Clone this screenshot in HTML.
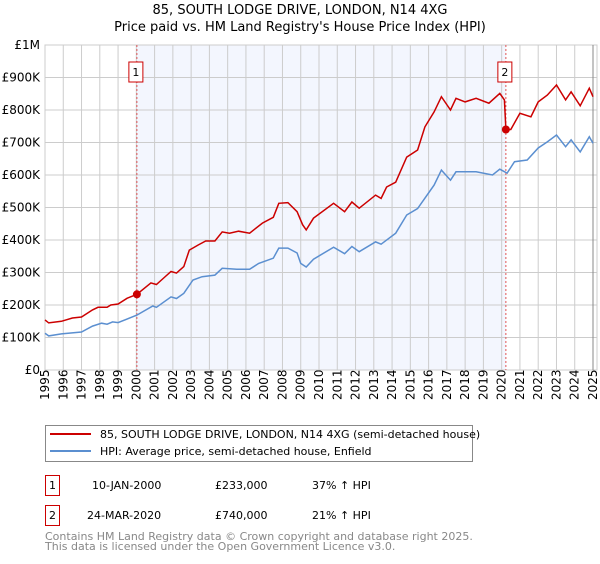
<!DOCTYPE html>
<html><head><meta charset="utf-8"><style>
body{margin:0;background:#fff;font-family:"DejaVu Sans","Liberation Sans",sans-serif;}
svg text{font-family:"DejaVu Sans","Liberation Sans",sans-serif;}
</style></head><body>
<svg id="chart" width="600" height="560" xmlns="http://www.w3.org/2000/svg">
<text x="300" y="14" text-anchor="middle" font-size="13">85, SOUTH LODGE DRIVE, LONDON, N14 4XG</text>
<text x="300" y="31" text-anchor="middle" font-size="13">Price paid vs. HM Land Registry's House Price Index (HPI)</text>
<g id="plot"></g>
<g>
<rect x="45.5" y="425.5" width="427" height="36" fill="#fff" stroke="#888"/>
<line x1="50" y1="434" x2="91" y2="434" stroke="#cc0000" stroke-width="2"/>
<text x="100" y="438" font-size="11">85, SOUTH LODGE DRIVE, LONDON, N14 4XG (semi-detached house)</text>
<line x1="50" y1="451" x2="91" y2="451" stroke="#5b8fd0" stroke-width="2"/>
<text x="100" y="455" font-size="11">HPI: Average price, semi-detached house, Enfield</text>
</g>
<g font-size="11">
<rect x="45.5" y="475.5" width="14" height="20" fill="#fff" stroke="#cc0000"/>
<text x="52.5" y="489" text-anchor="middle">1</text>
<text x="92" y="489">10-JAN-2000</text><text x="215" y="489">£233,000</text><text x="312" y="489">37% ↑ HPI</text>
<rect x="45.5" y="505.5" width="14" height="20" fill="#fff" stroke="#cc0000"/>
<text x="52.5" y="519" text-anchor="middle">2</text>
<text x="87" y="519">24-MAR-2020</text><text x="215" y="519">£740,000</text><text x="312" y="519">21% ↑ HPI</text>
</g>
<g font-size="11" fill="#888">
<text x="45" y="540">Contains HM Land Registry data © Crown copyright and database right 2025.</text>
<text x="45" y="550">This data is licensed under the Open Government Licence v3.0.</text>
</g>
</svg>
<script>
const yearTicks=[1995,1996,1997,1998,1999,2000,2001,2002,2003,2004,2005,2006,2007,2008,2009,2010,2011,2012,2013,2014,2015,2016,2017,2018,2019,2020,2021,2022,2023,2024,2025];
const valueTicks=[0,100,200,300,400,500,600,700,800,900,1000];
const valueTickLabels=["£0","£100K","£200K","£300K","£400K","£500K","£600K","£700K","£800K","£900K","£1M"];
const redYears=[1995.0,1995.2,1995.9,1996.5,1997.0,1997.6,1997.9,1998.4,1998.6,1999.0,1999.5,2000.03,2000.8,2001.1,2001.5,2001.9,2002.2,2002.6,2002.9,2003.4,2003.8,2004.3,2004.7,2005.1,2005.6,2006.2,2006.9,2007.5,2007.8,2008.3,2008.8,2009.1,2009.3,2009.7,2010.8,2011.4,2011.8,2012.2,2013.1,2013.4,2013.7,2014.2,2014.8,2015.4,2015.8,2016.3,2016.7,2017.2,2017.5,2018.0,2018.6,2019.3,2019.9,2020.15,2020.23,2020.5,2021.0,2021.6,2022.0,2022.5,2023.0,2023.5,2023.8,2024.3,2024.8,2025.0];
const redValues=[154,145,150,160,163,185,193,193,200,203,221,233,268,263,283,303,298,318,369,385,397,397,425,421,427,421,452,470,513,515,487,447,431,467,513,487,517,498,538,528,563,578,655,677,748,794,841,800,836,825,836,821,851,831,740,740,790,779,825,846,877,831,856,813,867,841];
const blueYears=[1995.0,1995.2,1995.9,1997.0,1997.6,1998.1,1998.4,1998.7,1999.0,2000.03,2000.9,2001.1,2001.9,2002.2,2002.6,2003.1,2003.6,2004.3,2004.7,2005.5,2006.2,2006.7,2007.5,2007.8,2008.3,2008.8,2009.0,2009.3,2009.7,2010.8,2011.4,2011.8,2012.2,2013.1,2013.4,2014.2,2014.8,2015.4,2016.3,2016.7,2017.2,2017.5,2018.6,2019.5,2019.9,2020.3,2020.7,2021.4,2022.0,2022.5,2023.0,2023.5,2023.8,2024.3,2024.8,2025.0];
const blueValues=[113,105,111,117,135,144,141,148,146,169,197,193,225,220,236,277,287,292,313,310,310,328,344,375,375,360,328,317,341,378,358,380,364,394,387,421,477,497,569,615,584,610,610,600,618,606,641,646,683,702,723,687,708,671,718,698];
const saleYears=[2000.03,2020.23];
const saleValues=[233,740];
const saleLabels=["1","2"];

const X0=45,X1=593,Y0=370,Y1=45;
const xs=y=>X0+(y-1995)*(X1-X0)/30;
const ys=v=>Y0-(v/1000)*(Y0-Y1);
const NS="http://www.w3.org/2000/svg";
const g=document.getElementById('plot');
function mk(t,a){const e=document.createElementNS(NS,t);for(const k in a)e.setAttribute(k,a[k]);g.appendChild(e);return e;}
let r=mk('rect',{x:xs(saleYears[0]),y:Y1,width:xs(saleYears[1])-xs(saleYears[0]),height:Y0-Y1,fill:'#f3f6fe'});


yearTicks.forEach(yr=>{
  const l=mk('line',{x1:xs(yr),x2:xs(yr),y1:Y1,y2:Y0,stroke:'#cccccc','stroke-width':1});
  
  
  const t=mk('text',{transform:`translate(${xs(yr)+4},400) rotate(-90)`,'font-size':12});
  t.textContent=yr;
  
  
});
valueTicks.forEach((v,i)=>{
  const l=mk('line',{x1:X0,x2:597,y1:ys(v),y2:ys(v),stroke:'#cccccc','stroke-width':1});
  
  
  const t=mk('text',{x:40,y:ys(v)+4,'text-anchor':'end','font-size':12});
  t.textContent=valueTickLabels[i];
  
  
});
const border=mk('rect',{x:X0,y:Y1,width:597-X0,height:Y0-Y1,fill:'none',stroke:'#cccccc'});


const endLine=mk('line',{x1:X1,x2:X1,y1:Y1,y2:Y0,stroke:'#888888','stroke-width':1});


saleYears.forEach((yr,i)=>{
  const l=mk('line',{x1:xs(yr),x2:xs(yr),y1:Y1,y2:Y0,stroke:'#e05555','stroke-dasharray':'2,2'});
  
  
  const b=mk('rect',{x:xs(yr)-8,y:62,width:14,height:20,fill:'#fff',stroke:'#cc0000'});
  
  
  const t=mk('text',{x:xs(yr)-1,y:76,'text-anchor':'middle','font-size':11});
  t.textContent=saleLabels[i];
  
  
});
const pts=(a,b)=>a.map((y,i)=>xs(y).toFixed(1)+','+ys(b[i]).toFixed(1)).join(' ');
const bl=mk('polyline',{points:pts(blueYears,blueValues),fill:'none',stroke:'#5b8fd0','stroke-width':1.5});


const rl=mk('polyline',{points:pts(redYears,redValues),fill:'none',stroke:'#cc0000','stroke-width':1.5});


saleYears.forEach((yr,i)=>{
  const c=mk('circle',{cx:xs(yr),cy:ys(saleValues[i]),r:4,fill:'#cc0000'});
  
  
});
</script>
</body></html>
